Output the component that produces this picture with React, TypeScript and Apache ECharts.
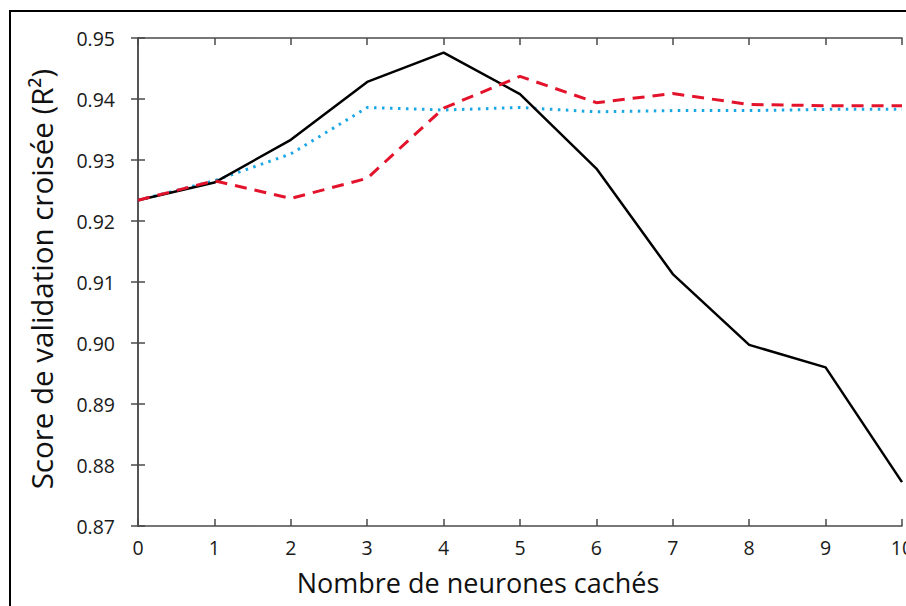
import React, { useEffect, useRef } from "react";
import * as echarts from "echarts";

const xValues = [0, 1, 2, 3, 4, 5, 6, 7, 8, 9, 10];
const blackSolid = [0.9234, 0.9263, 0.9333, 0.9428, 0.9476, 0.9408, 0.9286, 0.9113, 0.8997, 0.8960, 0.8772];
const redDashed = [0.9234, 0.9266, 0.9237, 0.9270, 0.9385, 0.9437, 0.9394, 0.9409, 0.9391, 0.9389, 0.9389];
const blueDotted = [0.9234, 0.9266, 0.9310, 0.9386, 0.9382, 0.9386, 0.9379, 0.9381, 0.9381, 0.9383, 0.9383];

const yTitle = "Score de validation croisée (R²)";
const xTitle = "Nombre de neurones cachés";

const FONT = "'Open Sans', 'Noto Sans', sans-serif";
const AXIS_COLOR = "#4a4a4a";

export default function App() {
  const ref = useRef<HTMLDivElement>(null);
  useEffect(() => {
    if (!ref.current) return;
    const chart = echarts.init(ref.current, undefined, { renderer: "svg" });
    const pairs = (arr: number[]) => xValues.map((x, i) => [x, arr[i]]);
    const baseX = {
      type: "value" as const,
      min: 0,
      max: 10,
      interval: 1,
      axisLine: { show: true, lineStyle: { color: AXIS_COLOR, width: 1.5 } },
      axisTick: { show: true, inside: true, length: 7, lineStyle: { color: AXIS_COLOR, width: 1.5 } },
      splitLine: { show: false },
    };
    const baseY = {
      type: "value" as const,
      min: 0.87,
      max: 0.95,
      interval: 0.01,
      axisLine: { show: true, lineStyle: { color: AXIS_COLOR, width: 1.5 } },
      axisTick: { show: true, inside: true, length: 7, lineStyle: { color: AXIS_COLOR, width: 1.5 } },
      splitLine: { show: false },
    };
    chart.setOption({
      animation: false,
      backgroundColor: "#ffffff",
      grid: { left: 138, right: 4, top: 38, bottom: 80, containLabel: false, outerBoundsMode: "none" },
      xAxis: [
        {
          ...baseX,
          position: "bottom",
          axisLabel: { show: true, color: "#1a1a1a", fontSize: 19.5, fontFamily: FONT, margin: 11 },
        },
        { ...baseX, position: "top", axisLabel: { show: false } },
      ],
      yAxis: [
        {
          ...baseY,
          position: "left",
          axisLabel: {
            show: true,
            color: "#1a1a1a",
            fontSize: 19.5,
            fontFamily: FONT,
            margin: 23,
            formatter: (v: number) => v.toFixed(2),
          },
        },
        { ...baseY, position: "right", axisLabel: { show: false } },
      ],
      graphic: [
        {
          type: "rect",
          shape: { x: 10, y: 11, width: 1000, height: 1000 },
          style: { fill: "none", stroke: "#000", lineWidth: 2 },
          silent: true,
        },
        {
          type: "text",
          x: 41,
          y: 279,
          rotation: Math.PI / 2,
          style: {
            text: yTitle,
            fontSize: 29.5,
            fontFamily: FONT,
            fill: "#111",
            align: "center",
            verticalAlign: "middle",
          },
        },
        {
          type: "text",
          x: 478,
          y: 582,
          style: {
            text: xTitle,
            fontSize: 27,
            fontFamily: FONT,
            fill: "#111",
            align: "center",
            verticalAlign: "middle",
          },
        },
      ],
      series: [
        {
          type: "line",
          data: pairs(blueDotted),
          symbol: "none",
          lineStyle: { color: "#1ba7e6", width: 3, type: [2.5, 5.5], cap: "butt" },
          z: 2,
        },
        {
          type: "line",
          data: pairs(blackSolid),
          symbol: "none",
          lineStyle: { color: "#000000", width: 2.5 },
          z: 3,
        },
        {
          type: "line",
          data: pairs(redDashed),
          symbol: "none",
          lineStyle: { color: "#e3132c", width: 3, type: [12, 8] },
          z: 4,
        },
      ],
    });
    return () => chart.dispose();
  }, []);
  return (
    <div
      ref={ref}
      style={{ position: "fixed", left: 0, top: 0, width: 906, height: 606, background: "#fff" }}
    />
  );
}
